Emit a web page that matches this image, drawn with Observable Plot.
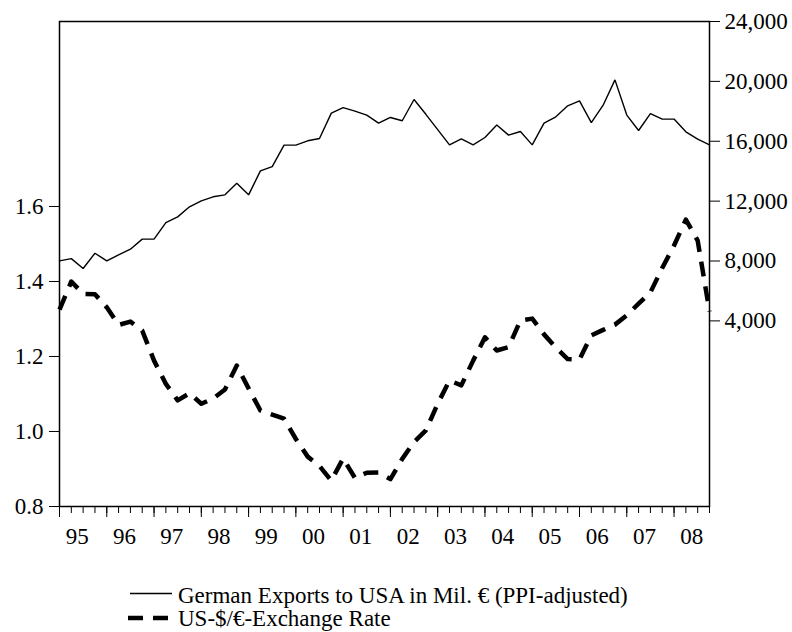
<!DOCTYPE html>
<html>
<head>
<meta charset="utf-8">
<script src="https://cdn.jsdelivr.net/npm/d3@7"></script>
<script src="https://cdn.jsdelivr.net/npm/@observablehq/plot@0.6"></script>
<style>
  html, body { margin: 0; padding: 0; background: #fff; }
  #wrap { position: relative; width: 792px; height: 632px; overflow: hidden; background: #fff; }
  #legend { position: absolute; left: 0; top: 556px; }
</style>
</head>
<body>
<div id="wrap"><div id="chart"></div><svg id="legend" width="792" height="76"></svg></div>
<script>
// ---- data (quarterly, 1995Q1 .. 2008Q4) ----
const years = [1995, 1996, 1997, 1998, 1999, 2000, 2001, 2002, 2003, 2004, 2005, 2006, 2007, 2008];
const yearLabels = ["95", "96", "97", "98", "99", "00", "01", "02", "03", "04", "05", "06", "07", "08"];

// German exports to USA, Mil. EUR (PPI-adjusted) - right axis
const exportsMil = [
  8010, 8160, 7500, 8520, 8010, 8410, 8790, 9460, 9460, 10570,
  10950, 11620, 12020, 12290, 12420, 13200, 12420, 14020, 14310, 15740,
  15740, 16030, 16180, 17880, 18250, 18010, 17750, 17210, 17590, 17370,
  18790, 17800, 16780, 15760, 16160, 15760, 16250, 17080, 16410, 16650,
  15760, 17210, 17630, 18370, 18700, 17250, 18410, 20100, 17750, 16720,
  17850, 17480, 17480, 16630, 16140, 15760
];

// US-$/EUR exchange rate - left axis
const exchangeRate = [
  1.325, 1.400, 1.367, 1.366, 1.331, 1.284, 1.293, 1.269, 1.189, 1.127,
  1.083, 1.102, 1.074, 1.088, 1.112, 1.176, 1.115, 1.056, 1.045, 1.034,
  0.980, 0.933, 0.908, 0.869, 0.928, 0.876, 0.890, 0.891, 0.873, 0.927,
  0.972, 1.003, 1.074, 1.136, 1.123, 1.189, 1.251, 1.216, 1.225, 1.296,
  1.301, 1.259, 1.224, 1.193, 1.192, 1.256, 1.271, 1.285, 1.310, 1.341,
  1.371, 1.436, 1.496, 1.565, 1.509, 1.320
];

const leftTicks = [0.8, 1.0, 1.2, 1.4, 1.6];
const rightTicks = [4000, 8000, 12000, 16000, 20000, 24000];
const seriesNames = ["German Exports to USA in Mil. \u20ac (PPI-adjusted)", "US-$/\u20ac-Exchange Rate"];

// ---- build table ----
const periods = [];
years.forEach(y => { for (let q = 0; q < 4; q++) periods.push(y + q / 4); });
const data = periods.map((t, i) => ({t, exports: exportsMil[i], rate: exchangeRate[i]}));

// ---- dual-axis mapping ----
const leftMin = 0.8, leftMax = 2.0933;
const rightMin = -8400, rightMax = 24000;
const toLeft = r => leftMin + (r - rightMin) / (rightMax - rightMin) * (leftMax - leftMin);
const fromLeft = v => rightMin + (v - leftMin) / (leftMax - leftMin) * (rightMax - rightMin);
const fmtRight = d3.format(",");

const chart = Plot.plot({
  width: 792,
  height: 556,
  marginTop: 21,
  marginBottom: 50,
  marginLeft: 59,
  marginRight: 83,
  style: {fontFamily: "'Liberation Serif', 'Times New Roman', serif", fontSize: "23px", background: "white", color: "black"},
  x: {domain: [1995, 2008.75]},
  y: {domain: [leftMin, leftMax]},
  marks: [
    Plot.frame({stroke: "black", strokeWidth: 1.5}),
    Plot.axisY(leftTicks, {anchor: "left", tickSize: 10, tickPadding: 6, tickFormat: d => d.toFixed(1), label: null}),
    Plot.axisY(rightTicks.map(toLeft), {anchor: "right", tickSize: 10, tickPadding: 5,
      tickFormat: d => fmtRight(Math.round(fromLeft(d) / 1000) * 1000), label: null}),
    Plot.axisX(periods, {anchor: "bottom", tickSize: 7, tickFormat: () => "", label: null}),
    Plot.axisX(years, {anchor: "bottom", tickSize: 11, tickFormat: () => "", label: null}),
    Plot.axisX(years.map(y => y + 0.375), {anchor: "bottom", tickSize: 0, tickPadding: 21,
      tickFormat: d => yearLabels[Math.round(d - 0.375) - years[0]], label: null}),
    Plot.line(data, {x: "t", y: d => toLeft(d.exports), stroke: "black", strokeWidth: 1.4, strokeLinejoin: "miter"}),
    Plot.line(data, {x: "t", y: "rate", stroke: "black", strokeWidth: 4.5, strokeDasharray: "15,10", strokeLinecap: "butt", strokeLinejoin: "round"})
  ]
});
document.getElementById("chart").appendChild(chart);

// ---- legend below the chart ----
const lg = d3.select("#legend");
lg.append("line").attr("x1", 130).attr("x2", 172).attr("y1", 37.5).attr("y2", 37.5)
  .attr("stroke", "black").attr("stroke-width", 1.4);
lg.append("line").attr("x1", 128).attr("x2", 168).attr("y1", 62).attr("y2", 62)
  .attr("stroke", "black").attr("stroke-width", 4.5).attr("stroke-dasharray", "15,10");
lg.selectAll("text").data(seriesNames).join("text")
  .attr("x", 178).attr("y", (d, i) => i === 0 ? 47 : 70)
  .attr("font-family", "'Liberation Serif', 'Times New Roman', serif")
  .attr("font-size", 23).attr("fill", "black")
  .text(d => d);
</script>
</body>
</html>
